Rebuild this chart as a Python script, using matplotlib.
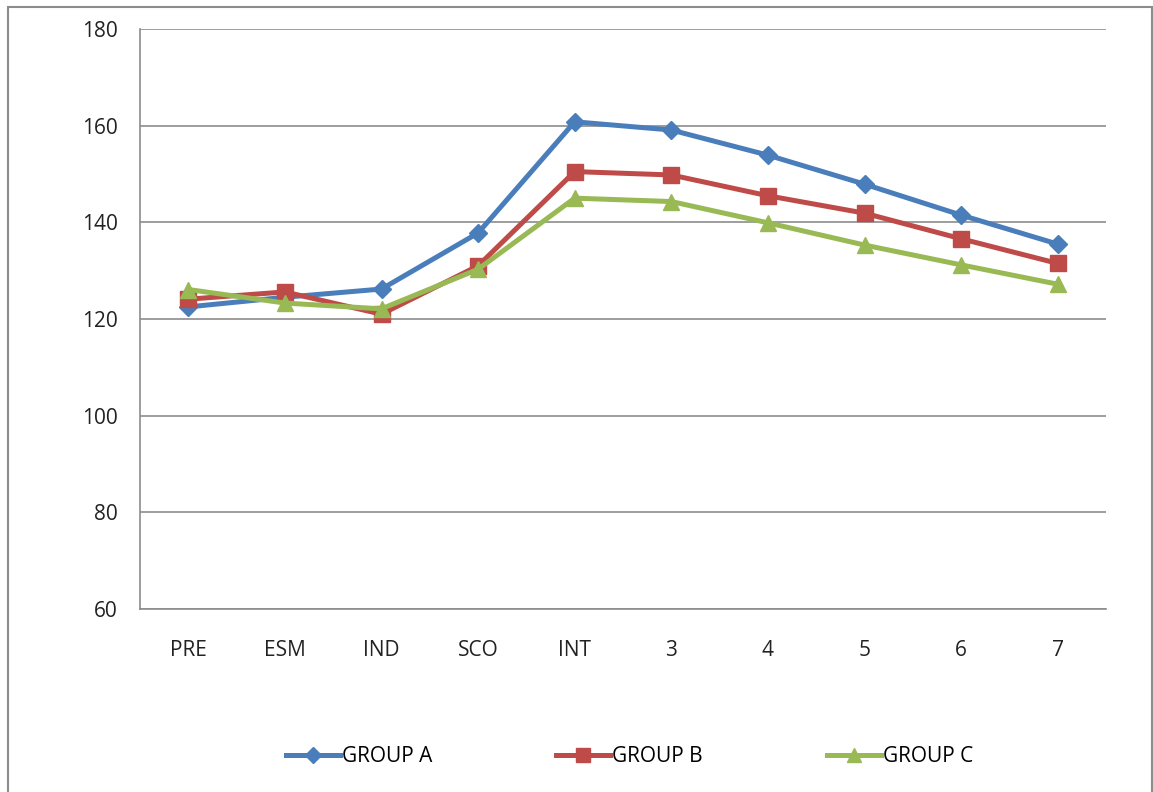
import matplotlib.pyplot as plt
from matplotlib.patches import Rectangle

categories = ["PRE", "ESM", "IND", "SCO", "INT", "3", "4", "5", "6", "7"]
group_a = [122.5, 124.5, 126.2, 137.8, 160.8, 159.1, 153.9, 147.9, 141.5, 135.5]
group_b = [124.1, 125.6, 121.0, 131.0, 150.5, 149.8, 145.5, 141.9, 136.6, 131.5]
group_c = [126.1, 123.3, 122.1, 130.3, 145.0, 144.3, 139.9, 135.3, 131.2, 127.2]
labels = ["GROUP A", "GROUP B", "GROUP C"]


def main():
    plt.rcParams['font.family'] = ['Open Sans', 'DejaVu Sans']

    fig = plt.figure(figsize=(11.53, 7.92), dpi=100)
    # plot area in pixel terms: left 140, right 1106, top 29, bottom 609
    ax = fig.add_axes([140 / 1153, 1 - 609 / 792, 966 / 1153, 580 / 792])

    # outer chart border
    fig.add_artist(Rectangle((8 / 1153, -0.05), 1144 / 1153, 1.05 - 7 / 792,
                             transform=fig.transFigure, fill=False,
                             edgecolor='#8c8c8c', linewidth=1.5))

    x = list(range(len(categories)))
    series = [
        (group_a, '#4A7EBB', 'D', 9),
        (group_b, '#BE4B48', 's', 11),
        (group_c, '#98B954', '^', 11),
    ]
    for (vals, col, mk, ms), lab in zip(series, labels):
        ax.plot(x, vals, color=col, marker=mk, markersize=ms, linewidth=3.6,
                label=lab, solid_joinstyle='round')

    ax.set_xlim(-0.5, len(categories) - 0.5)
    ax.set_ylim(60, 180)
    ax.set_yticks(range(60, 181, 20))
    ax.set_xticks(x)
    ax.set_xticklabels(categories)
    ax.yaxis.grid(True, color='#8c8c8c', linewidth=1.2)
    ax.set_axisbelow(True)
    for s in ['top', 'right']:
        ax.spines[s].set_visible(False)
    for s in ['left', 'bottom']:
        ax.spines[s].set_color('#8c8c8c')
        ax.spines[s].set_linewidth(1.2)
    ax.tick_params(length=0, labelsize=15, colors='#222222')
    ax.tick_params(axis='x', pad=22)
    ax.tick_params(axis='y', pad=16)

    fig.legend(loc='center', bbox_to_anchor=(0.546, 1 - 757 / 792), ncol=3,
               frameon=False, fontsize=15, columnspacing=5.95, handlelength=2.6,
               handletextpad=0.1, markerscale=0.9)

    fig.savefig("out.png", dpi=100)


if __name__ == "__main__":
    main()
